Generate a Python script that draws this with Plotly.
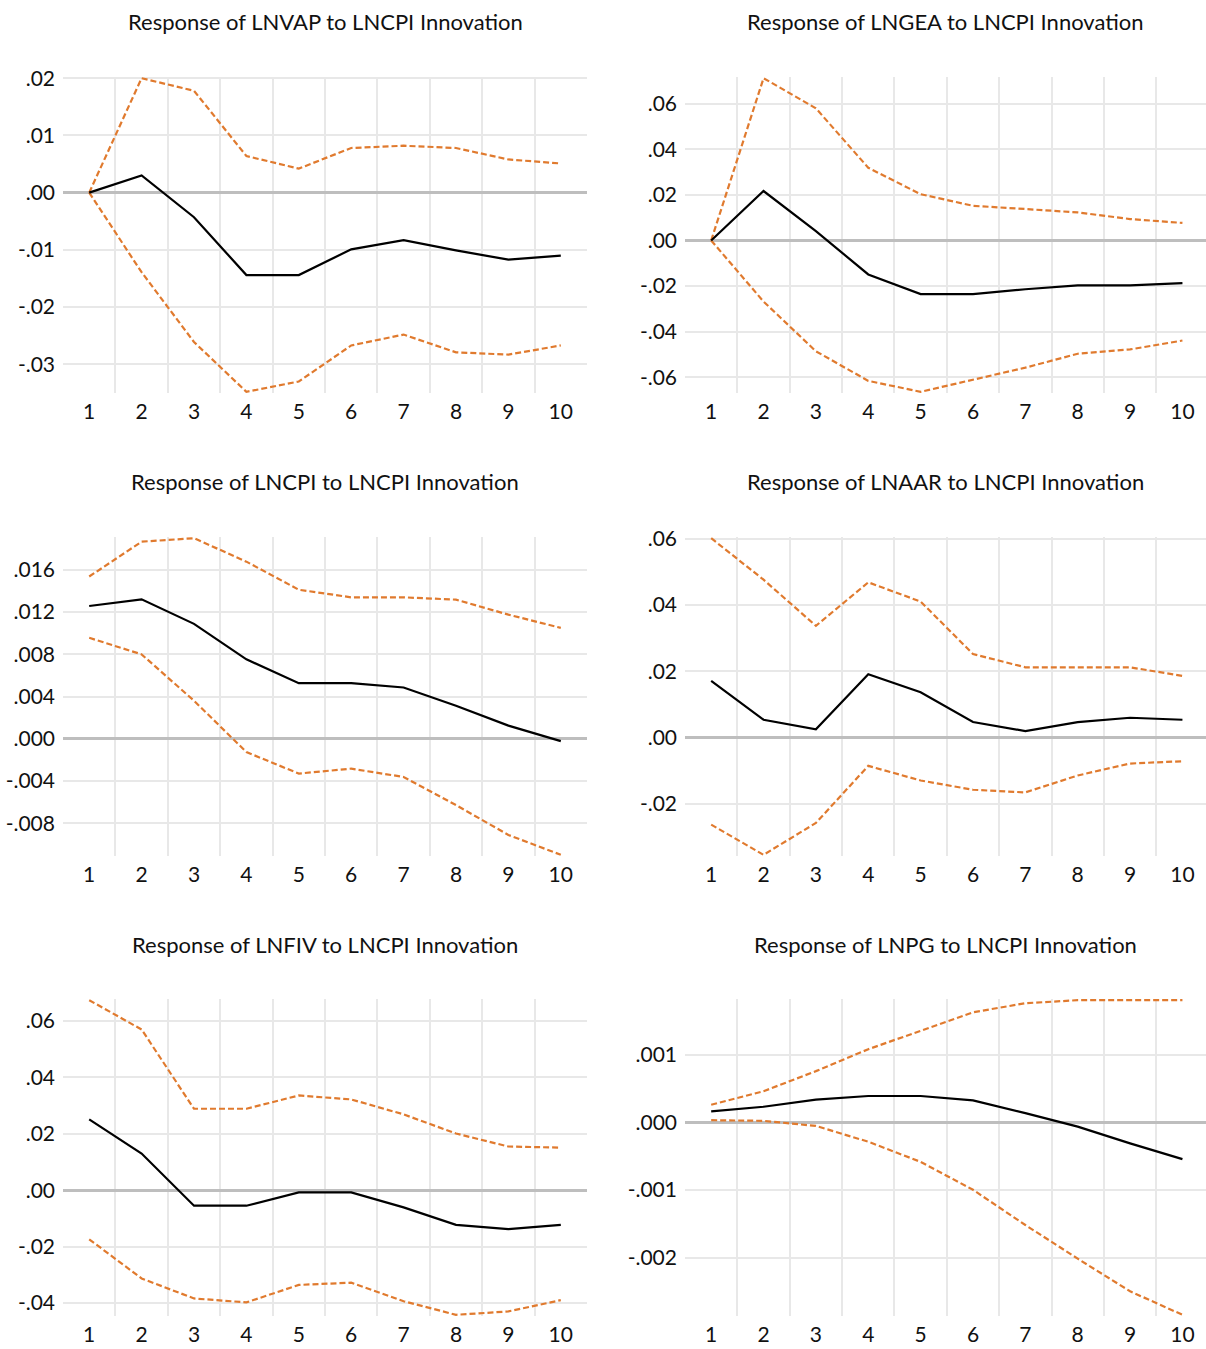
import plotly.graph_objects as go

# Impulse-response horizon
periods = list(range(1, 11))

# Response of LNVAP to LNCPI innovation
lnvap_resp = [0.0, 0.0030, -0.0043, -0.0144, -0.0144, -0.0099, -0.0083, -0.0101, -0.0117, -0.0110]
lnvap_upper = [0.0, 0.0200, 0.0178, 0.0064, 0.0042, 0.0078, 0.0082, 0.0078, 0.0058, 0.0051]
lnvap_lower = [0.0, -0.0139, -0.0261, -0.0348, -0.0330, -0.0267, -0.0248, -0.0279, -0.0283, -0.0267]

# Response of LNGEA to LNCPI innovation
lngea_resp = [0.0, 0.0217, 0.0041, -0.0149, -0.0235, -0.0235, -0.0214, -0.0197, -0.0197, -0.0187]
lngea_upper = [0.0, 0.0712, 0.0580, 0.0319, 0.0203, 0.0152, 0.0138, 0.0123, 0.0094, 0.0077]
lngea_lower = [0.0, -0.0268, -0.0486, -0.0616, -0.0664, -0.0612, -0.0558, -0.0497, -0.0478, -0.0439]

# Response of LNCPI to LNCPI innovation
lncpi_resp = [0.01258, 0.01321, 0.01089, 0.00753, 0.00527, 0.00527, 0.00486, 0.00314, 0.00125, -0.00022]
lncpi_upper = [0.01537, 0.01867, 0.01900, 0.01678, 0.01412, 0.01340, 0.01340, 0.01318, 0.01176, 0.01051]
lncpi_lower = [0.00957, 0.00800, 0.00361, -0.00125, -0.00329, -0.00282, -0.00361, -0.00627, -0.00910, -0.01098]

# Response of LNAAR to LNCPI innovation
lnaar_resp = [0.0171, 0.0054, 0.0025, 0.0191, 0.0137, 0.0047, 0.0020, 0.0047, 0.0060, 0.0054]
lnaar_upper = [0.0601, 0.0476, 0.0337, 0.0468, 0.0410, 0.0252, 0.0212, 0.0212, 0.0212, 0.0186]
lnaar_lower = [-0.0262, -0.0353, -0.0257, -0.0085, -0.0129, -0.0157, -0.0165, -0.0114, -0.0078, -0.0071]

# Response of LNFIV to LNCPI innovation
lnfiv_resp = [0.0251, 0.0130, -0.0055, -0.0055, -0.0008, -0.0008, -0.0061, -0.0123, -0.0138, -0.0123]
lnfiv_upper = [0.0674, 0.0570, 0.0289, 0.0289, 0.0336, 0.0322, 0.0269, 0.0201, 0.0155, 0.0151]
lnfiv_lower = [-0.0174, -0.0313, -0.0384, -0.0398, -0.0336, -0.0328, -0.0394, -0.0442, -0.0430, -0.0390]

# Response of LNPG to LNCPI innovation
lnpg_resp = [0.000164, 0.000234, 0.000338, 0.000393, 0.000393, 0.000328, 0.000139, -0.000060, -0.000308, -0.000542]
lnpg_upper = [0.000264, 0.000463, 0.000761, 0.001085, 0.001358, 0.001632, 0.001766, 0.001811, 0.001811, 0.001811]
lnpg_lower = [0.000035, 0.000025, -0.000050, -0.000284, -0.000582, -0.000995, -0.001517, -0.002015, -0.002498, -0.002846]

# Y-axis tick values per panel
lnvap_ticks = [0.02, 0.01, 0.0, -0.01, -0.02, -0.03]
lngea_ticks = [0.06, 0.04, 0.02, 0.0, -0.02, -0.04, -0.06]
lncpi_ticks = [0.016, 0.012, 0.008, 0.004, 0.0, -0.004, -0.008]
lnaar_ticks = [0.06, 0.04, 0.02, 0.0, -0.02]
lnfiv_ticks = [0.06, 0.04, 0.02, 0.0, -0.02, -0.04]
lnpg_ticks = [0.001, 0.0, -0.001, -0.002]

panels = [
    ("Response of LNVAP to LNCPI Innovation", lnvap_resp, lnvap_upper, lnvap_lower, lnvap_ticks, 2),
    ("Response of LNGEA to LNCPI Innovation", lngea_resp, lngea_upper, lngea_lower, lngea_ticks, 2),
    ("Response of LNCPI to LNCPI Innovation", lncpi_resp, lncpi_upper, lncpi_lower, lncpi_ticks, 3),
    ("Response of LNAAR to LNCPI Innovation", lnaar_resp, lnaar_upper, lnaar_lower, lnaar_ticks, 2),
    ("Response of LNFIV to LNCPI Innovation", lnfiv_resp, lnfiv_upper, lnfiv_lower, lnfiv_ticks, 2),
    ("Response of LNPG to LNCPI Innovation", lnpg_resp, lnpg_upper, lnpg_lower, lnpg_ticks, 3),
]

W, H = 1206, 1349
FONT = "Lato, 'Open Sans', sans-serif"
ORANGE = "#E07A2E"
GRID = "#E8E8E8"
ZERO = "#BEBEBE"
TEXT = "#111111"

# Plot-area boxes in pixels: (left, right) per column, (top, bottom) per row
col_px = [(63, 587), (685, 1206)]
row_px = [(77, 393), (537, 856), (999, 1316)]
title_y_px = [22, 482, 944]


def fmt(v, dec):
    """EViews-style tick text: no leading zero, e.g. .02 / -.01"""
    s = f"{v:.{dec}f}"
    if float(s) == 0:
        s = f"{0:.{dec}f}"
    if s.startswith("-0"):
        s = "-" + s[2:]
    elif s.startswith("0"):
        s = s[1:]
    return s


fig = go.Figure()
mid_grid = [p + 0.5 for p in periods[:-1]]

for i, (title, resp, upper, lower, ticks, dec) in enumerate(panels):
    r, c = divmod(i, 2)
    n = i + 1
    xa = "x" if n == 1 else f"x{n}"
    ya = "y" if n == 1 else f"y{n}"
    for series, color, dash, width in (
        (upper, ORANGE, "6px,3px", 2.2),
        (lower, ORANGE, "6px,3px", 2.2),
        (resp, "black", "solid", 2.2),
    ):
        fig.add_trace(go.Scatter(
            x=periods, y=series, mode="lines", xaxis=xa, yaxis=ya,
            line=dict(color=color, width=width, dash=dash), showlegend=False,
            hoverinfo="skip",
        ))
    lft, rgt = col_px[c]
    top, bot = row_px[r]
    xmax = 10.5 if c == 0 else 10.45
    all_vals = resp + upper + lower
    lo, hi = min(all_vals), max(all_vals)
    # about one pixel of headroom so the extreme bands are not cut in half
    pad = (hi - lo) * 1.2 / (bot - top)
    xkey = "xaxis" if n == 1 else f"xaxis{n}"
    ykey = "yaxis" if n == 1 else f"yaxis{n}"
    fig.update_layout({
        xkey: dict(
            domain=[lft / W, rgt / W], range=[0.5, xmax], anchor=ya,
            tickvals=periods, ticktext=[str(p) for p in periods],
            showgrid=False, zeroline=False, showline=False, ticks="",
            tickfont=dict(family=FONT, size=21, color=TEXT),
            ticklabelstandoff=4, automargin=False,
            minor=dict(tickvals=mid_grid, showgrid=True, gridcolor=GRID, gridwidth=2, ticks=""),
        ),
        ykey: dict(
            domain=[1 - bot / H, 1 - top / H], range=[lo - pad, hi + pad], anchor=xa,
            tickvals=ticks, ticktext=[fmt(t, dec) for t in ticks],
            showgrid=True, gridcolor=GRID, gridwidth=2,
            zeroline=True, zerolinecolor=ZERO, zerolinewidth=3,
            showline=False, ticks="",
            tickfont=dict(family=FONT, size=21, color=TEXT),
            ticklabelstandoff=7, automargin=False,
        ),
    })
    fig.add_annotation(
        text=title, x=(lft + rgt) / 2 / W, y=1 - title_y_px[r] / H,
        xref="paper", yref="paper", xanchor="center", yanchor="middle",
        showarrow=False, font=dict(family=FONT, size=22, color=TEXT),
    )

fig.update_layout(
    width=W, height=H,
    margin=dict(l=0, r=0, t=0, b=0, pad=0, autoexpand=False),
    paper_bgcolor="white", plot_bgcolor="white",
)

# Page without default body margin so the figure fills the window exactly
fig.write_html(
    "out.html",
    post_script="document.body.style.margin='0';document.body.style.overflow='hidden';",
)
